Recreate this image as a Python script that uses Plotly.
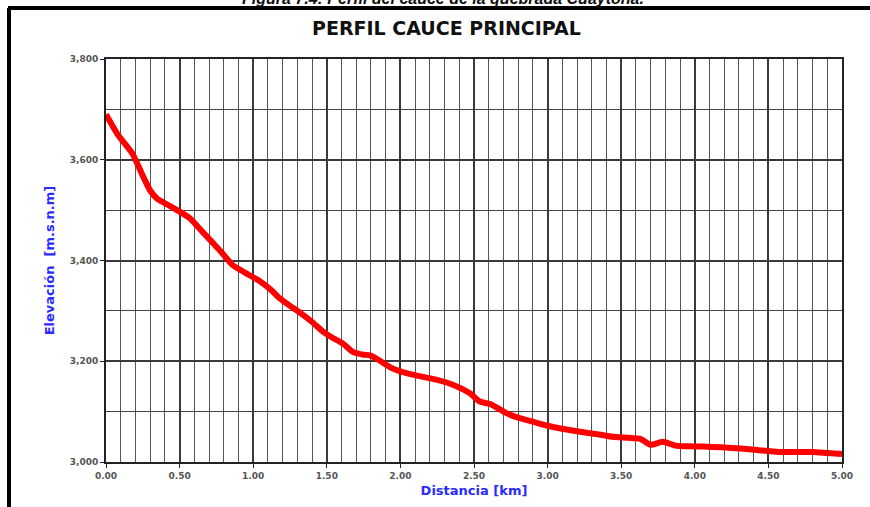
# Perfil del cauce principal
import plotly.graph_objects as go

# Data
distanciaKm = [0.00, 0.08, 0.18, 0.25, 0.30, 0.35, 0.43, 0.50, 0.57, 0.63, 0.71, 0.78, 0.86, 0.95,
               1.05, 1.12, 1.18, 1.25, 1.32, 1.40, 1.47, 1.53, 1.61, 1.68, 1.75, 1.79, 1.85, 1.93,
               2.00, 2.09, 2.17, 2.25, 2.36, 2.47, 2.54, 2.61, 2.72, 2.80, 2.90, 3.00, 3.08, 3.22,
               3.36, 3.44, 3.55, 3.63, 3.70, 3.78, 3.88, 4.00, 4.12, 4.25, 4.35, 4.45, 4.57, 4.70,
               4.80, 4.90, 5.00]
elevacion   = [3690, 3650, 3612, 3568, 3539, 3522, 3509, 3497, 3484, 3465, 3440, 3418, 3391, 3375,
               3358, 3342, 3325, 3310, 3296, 3278, 3260, 3248, 3235, 3218, 3213, 3212, 3203, 3188,
               3180, 3173, 3168, 3163, 3153, 3137, 3120, 3115, 3097, 3088, 3080, 3072, 3067, 3060,
               3054, 3050, 3048, 3046, 3034, 3040, 3032, 3031, 3030, 3028, 3026, 3023, 3020, 3020,
               3020, 3018, 3016]

titulo      = 'PERFIL CAUCE PRINCIPAL'
leyenda     = 'Figura 7.4: Perfil del cauce de la quebrada Cuaytona.'
tituloX     = 'Distancia [km]'
tituloY     = 'Elevación  [m.s.n.m]'

# Layout in pixels
W, H     = 870, 507
L, R     = 106, 842
T, B     = 59, 462
def px(x): return (x - L) / (R - L)
def py(y): return (B - y) / (B - T)

fig = go.Figure()
fig.add_trace(go.Scatter(x=distanciaKm, y=elevacion, mode='lines',
                         line=dict(color='#ff0000', width=6, shape='spline', smoothing=0.6),
                         showlegend=False, hoverinfo='x+y'))

tickFont = dict(family='DejaVu Sans', size=9, color='#555555', weight='bold')
axisFont = dict(family='DejaVu Sans', size=13, color='#2a2aff', weight='bold')

fig.update_xaxes(range=[0, 5], dtick=0.5, tickformat='.2f', tickfont=tickFont,
                 showgrid=True, gridcolor='#3a3a3a', gridwidth=1.5,
                 minor=dict(dtick=0.1, showgrid=True, gridcolor='#555555', gridwidth=1.2),
                 ticks='outside', ticklen=4, tickcolor='#222222',
                 showline=True, linecolor='#222222', linewidth=2, mirror=True,
                 zeroline=False,
                 title=dict(text=tituloX, font=axisFont, standoff=6))
fig.update_yaxes(range=[3000, 3800], dtick=200, tickformat=',', tickfont=tickFont,
                 showgrid=True, gridcolor='#3a3a3a', gridwidth=1.5,
                 minor=dict(dtick=100, showgrid=True, gridcolor='#444444', gridwidth=1.2),
                 ticks='outside', ticklen=4, tickcolor='#222222',
                 showline=True, linecolor='#222222', linewidth=2, mirror=True,
                 zeroline=False,
                 title=dict(text=tituloY, font=axisFont, standoff=12))

fig.update_layout(
    width=W, height=H,
    margin=dict(l=L, r=W - R, t=T, b=H - B),
    paper_bgcolor='white', plot_bgcolor='white',
    annotations=[
        dict(text='<b>' + titulo + '</b>', x=px(446), y=py(28), xref='paper', yref='paper',
             yanchor='middle', showarrow=False,
             font=dict(family='DejaVu Sans', size=19, color='#111111')),
        dict(text='<b><i>' + leyenda + '</i></b>', x=px(443), y=py(-1), xref='paper', yref='paper',
             yanchor='middle', showarrow=False,
             font=dict(family='Liberation Sans, Arial', size=16, color='#111111')),
    ],
    shapes=[
        dict(type='line', xref='paper', yref='paper', x0=px(8), x1=px(875), y0=py(8), y1=py(8),
             line=dict(color='black', width=4)),
        dict(type='line', xref='paper', yref='paper', x0=px(9), x1=px(9), y0=py(8), y1=py(515),
             line=dict(color='black', width=4)),
    ],
)

fig.write_html('out.html', config={'displayModeBar': False},
               post_script="document.body.style.margin='0';")
